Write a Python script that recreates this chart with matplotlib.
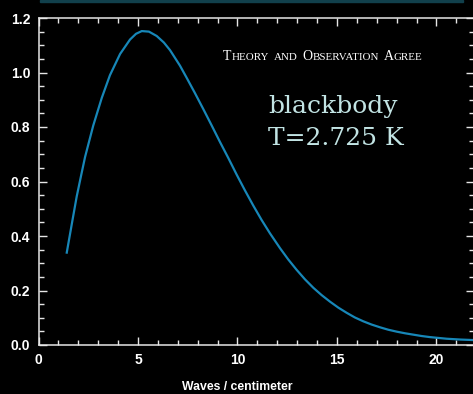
import matplotlib.pyplot as plt
from matplotlib.ticker import MultipleLocator
from matplotlib.patches import Rectangle
from matplotlib.offsetbox import TextArea, HPacker, AnchoredOffsetbox

# CMB spectrum
wavenumber = [1.42, 1.70, 1.92, 2.15, 2.34, 2.75, 3.18, 3.59, 4.10, 4.60,
              4.90, 5.19, 5.55, 5.94, 6.30, 6.61, 7.11, 7.45, 7.85, 8.28,
              8.70, 9.12, 9.54, 9.96, 10.37, 10.79, 11.21, 11.63, 12.14, 12.55,
              12.97, 13.39, 13.81, 14.23, 14.65, 15.07, 15.49, 15.90, 16.32, 16.74,
              17.16, 17.58, 18.00, 18.42, 18.83, 19.25, 19.67, 20.09, 20.51, 21.20,
              21.90]
intensity = [0.339, 0.455, 0.545, 0.625, 0.690, 0.805, 0.907, 0.990, 1.068, 1.121,
             1.142, 1.152, 1.150, 1.134, 1.110, 1.082, 1.025, 0.980, 0.926, 0.866,
             0.806, 0.745, 0.686, 0.625, 0.568, 0.512, 0.459, 0.410, 0.355, 0.314,
             0.276, 0.241, 0.210, 0.183, 0.159, 0.137, 0.118, 0.101, 0.087, 0.075,
             0.065, 0.056, 0.049, 0.043, 0.038, 0.033, 0.029, 0.026, 0.023, 0.020,
             0.018]

x_ticks = [0, 5, 10, 15, 20]
y_ticks = [0.0, 0.2, 0.4, 0.6, 0.8, 1.0, 1.2]

W, H = 473, 394
fig = plt.figure(figsize=(W / 100, H / 100), dpi=100, facecolor='black')
ax = fig.add_axes([38.5 / W, 49 / H, 435 / W, 327 / H], facecolor='black')

ax.plot(wavenumber, intensity, color='#1787b8', linewidth=1.6,
        solid_joinstyle='round')

ax.set_xlim(0, 21.86)
ax.set_ylim(0, 1.2)
ax.set_xticks(x_ticks)
ax.set_yticks(y_ticks)
ax.set_yticklabels(['%.1f' % v for v in y_ticks])
ax.xaxis.set_minor_locator(MultipleLocator(1))
ax.yaxis.set_minor_locator(MultipleLocator(0.05))

edge = '#e6e6e6'
for s in ax.spines.values():
    s.set_color(edge)
    s.set_linewidth(1.1)
ax.tick_params(which='both', direction='in', top=True, right=True,
               color=edge, width=1.0)
ax.tick_params(which='major', length=5.5, pad=6, labelsize=10,
               labelcolor='white')
ax.tick_params(which='minor', length=3.5)
for lab in ax.get_xticklabels() + ax.get_yticklabels():
    lab.set_fontfamily('Liberation Sans')
    lab.set_fontweight('bold')

fig.text(237 / W, 1 - 390 / H, 'Waves / centimeter', color='white',
         fontsize=8.8, fontweight='bold', family='Liberation Sans',
         ha='center', va='baseline')

# thin teal strip along the top edge
fig.patches.append(Rectangle((40 / W, 1 - 1.5 / H), 423 / W, 1.5 / H,
                             transform=fig.transFigure, color='#11404c',
                             zorder=0))

# small-caps heading
big, small = 10, 7.9
serif = dict(color='white', family='Liberation Serif')
words = [[('T', big), ('HEORY', small)],
         [('AND', small)],
         [('O', big), ('BSERVATION', small)],
         [('A', big), ('GREE', small)]]
boxes = []
for w in words:
    parts = [TextArea(t, textprops=dict(fontsize=sz, **serif)) for t, sz in w]
    boxes.append(HPacker(children=parts, align='baseline', pad=0, sep=0))
heading = HPacker(children=boxes, align='baseline', pad=0, sep=3.5)
anchored = AnchoredOffsetbox(loc='lower left', child=heading, pad=0,
                             borderpad=0, frameon=False,
                             bbox_to_anchor=(223 / W, 1 - 63 / H),
                             bbox_transform=fig.transFigure)
fig.add_artist(anchored)

label_color = '#c2e4e4'
fig.text(268 / W, 1 - 113 / H, 'blackbody', color=label_color, fontsize=18,
         family='DejaVu Serif', va='baseline')
fig.text(268 / W, 1 - 145 / H, 'T=2.725 K', color=label_color, fontsize=18,
         family='DejaVu Serif', va='baseline')

fig.savefig('out.png', dpi=100, facecolor='black')
